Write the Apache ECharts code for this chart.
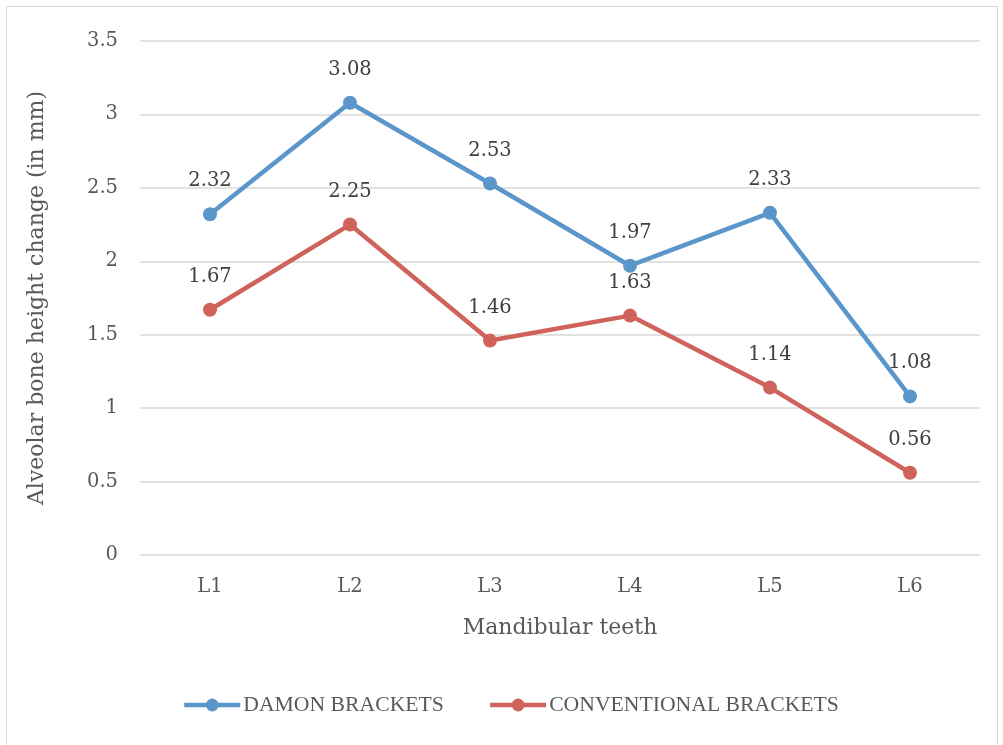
<!DOCTYPE html>
<html><head><meta charset="utf-8">
<script src="https://cdn.jsdelivr.net/npm/echarts@6/dist/echarts.min.js"></script>
<style>html,body{margin:0;padding:0;background:#fff;}#c{width:1003px;height:745px;}</style>
</head><body><div id="c"></div>
<script>
var categories = ['L1','L2','L3','L4','L5','L6'];
var damon = [2.32, 3.08, 2.53, 1.97, 2.33, 1.08];
var conventional = [1.67, 2.25, 1.46, 1.63, 1.14, 0.56];
var seriesNames = ['DAMON BRACKETS', 'CONVENTIONAL BRACKETS'];
var FONT = 'DejaVu Serif';
var chart = echarts.init(document.getElementById('c'));
chart.setOption({
  backgroundColor: '#fff',
  graphic: [{type:'rect', shape:{x:6.5,y:6.5,width:991,height:740}, style:{fill:'none', stroke:'#d9d9d9', lineWidth:1}, silent:true}],
  grid: {left:140, right:23, top:41, bottom:190, containLabel:false},
  xAxis: {
    type:'category', data:categories, boundaryGap:true,
    axisLine:{show:false}, axisTick:{show:false},
    axisLabel:{color:'#595959', fontFamily:FONT, fontSize:19.5, margin:22},
    name:'Mandibular teeth', nameLocation:'middle', nameGap:62,
    nameTextStyle:{color:'#595959', fontFamily:FONT, fontSize:22}
  },
  yAxis: {
    type:'value', min:0, max:3.5, interval:0.5,
    axisLine:{show:false}, axisTick:{show:false},
    splitLine:{lineStyle:{color:'#d9d9d9', width:1.5}},
    axisLabel:{color:'#595959', fontFamily:FONT, fontSize:19.5, margin:22},
    name:'Alveolar bone height change (in mm)', nameLocation:'middle', nameGap:92,
    nameTextStyle:{color:'#595959', fontFamily:FONT, fontSize:22}
  },
  legend: {
    bottom:24, left:177, itemWidth:56, itemHeight:16, itemGap:44,
    lineStyle:{width:4.5},
    textStyle:{color:'#595959', fontFamily:'Liberation Serif', fontSize:21.7, padding:[0,0,0,-2]},
    data: seriesNames
  },
  series: [
    {name:seriesNames[0], type:'line', data:damon, symbol:'circle', symbolSize:14,
     lineStyle:{width:4.5, color:'#5b96ca'}, itemStyle:{color:'#5b96ca'},
     label:{show:true, position:'top', distance:16, color:'#404040', fontFamily:FONT, fontSize:19.5}},
    {name:seriesNames[1], type:'line', data:conventional, symbol:'circle', symbolSize:14,
     lineStyle:{width:4.5, color:'#cf635b'}, itemStyle:{color:'#cf635b'},
     label:{show:true, position:'top', distance:16, color:'#404040', fontFamily:FONT, fontSize:19.5}}
  ]
});
</script></body></html>
